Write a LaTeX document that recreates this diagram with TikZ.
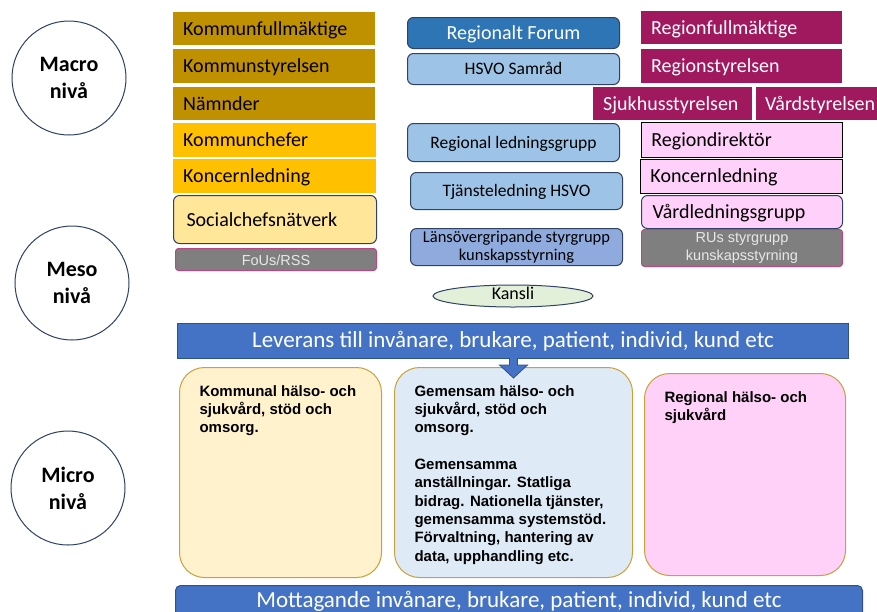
\documentclass[tikz,border=0pt]{standalone}
\usepackage{fontspec}
\setmainfont{Carlito}
\newfontfamily\arialfont{Liberation Sans}
\usetikzlibrary{shapes.geometric,calc}

\definecolor{goldDark}{HTML}{BF9000}
\definecolor{goldMid}{HTML}{FFC000}
\definecolor{goldLight}{HTML}{FFE699}
\definecolor{slateLine}{HTML}{2F4164}
\definecolor{greyFill}{HTML}{7F7F7F}
\definecolor{plumLine}{HTML}{B8487F}
\definecolor{forumBlue}{HTML}{2E75B6}
\definecolor{skyBlue}{HTML}{9DC3E6}
\definecolor{periBlue}{HTML}{8FAADC}
\definecolor{plum}{HTML}{A0185E}
\definecolor{pinkLight}{HTML}{FFD1FA}
\definecolor{mainBlue}{HTML}{4472C4}
\definecolor{mainBlueLine}{HTML}{2F528F}
\definecolor{kansliGreen}{HTML}{E2F0D9}
\definecolor{creamFill}{HTML}{FFF2CC}
\definecolor{paleBlue}{HTML}{DEEBF7}
\definecolor{microPink}{HTML}{FFD0F8}
\definecolor{ochreLine}{HTML}{C9A13B}
\definecolor{lightText}{HTML}{E8E8E8}

\begin{document}
\begin{tikzpicture}[x=1pt,y=-1pt,
  level/.style={circle, draw=slateLine, line width=1pt, fill=white,
    minimum size=114pt, inner sep=0pt, align=center,
    font=\fontsize{22}{27}\selectfont\bfseries},
  box/.style={anchor=north west, inner xsep=10pt, inner ysep=0pt,
    text height=13pt, text depth=0pt,
    align=left, font=\fontsize{20}{24}\selectfont},
  kdark/.style={box, fill=goldDark},
  kmid/.style={box, fill=goldMid},
  rplum/.style={box, fill=plum, text=white},
  rpink/.style={box, fill=pinkLight, draw=black, line width=0.9pt},
  netbox/.style={box, draw=slateLine, rounded corners=6pt, line width=1pt},
  greytag/.style={anchor=north west, fill=greyFill, draw=plumLine,
    rounded corners=3pt, text=lightText, align=center, inner sep=0pt,
    line width=1pt, font=\arialfont\fontsize{14.5}{18.5}\selectfont},
  midbox/.style={anchor=north west, rounded corners=6pt, draw=slateLine,
    line width=1pt, align=center, inner sep=0pt, fill=skyBlue,
    font=\fontsize{17.5}{18}\selectfont},
  oneline/.style={text height=11.5pt, text depth=0pt},
  microbox/.style={anchor=north west, rounded corners=25pt, draw=ochreLine,
    line width=1pt, inner xsep=20pt, inner ysep=18pt,
    font=\arialfont\bfseries\fontsize{15}{18.3}\selectfont},
  band/.style={anchor=north west, fill=mainBlue, draw=mainBlueLine,
    line width=1pt, text=white, inner sep=0pt,
    font=\fontsize{23}{26}\selectfont}]

\useasboundingbox (0,0) rectangle (877,611);
\fill[white] (0,0) rectangle (877,611);
\clip (0,0) rectangle (877,611);

% level circles
\node[level] (macro) at (69,78)  {Macro\\nivå};
\node[level] (meso)  at (72,283) {Meso\\nivå};
\node[level] (micro) at (68,488) {Micro\\nivå};

% municipal column
\node[kdark, minimum width=202, minimum height=33, text width=182] (kfm) at (173,12) {Kommunfullmäktige};
\node[kdark, minimum width=202, minimum height=34, text width=182] (kst) at (173,49) {Kommunstyrelsen};
\node[kdark, minimum width=202, minimum height=33, text width=182] (nmd) at (173,87) {Nämnder};
\node[kmid,  minimum width=203, minimum height=34, text width=183] (kch) at (173,123) {Kommunchefer};
\node[kmid,  minimum width=203, minimum height=34, text width=183] (kkl) at (173,159) {Koncernledning};
\node[netbox, fill=goldLight, inner xsep=13pt, minimum width=203, minimum height=48, text width=177] (scn) at (173,195) {Socialchefsnätverk};
\node[greytag, oneline, minimum width=201, minimum height=22] (fou) at (175,248) {FoUs/RSS};

% joint column
\node[midbox, oneline, fill=forumBlue, text=white, minimum width=212, minimum height=31,
  text height=13pt, font=\fontsize{20}{22}\selectfont] (forum) at (407,17) {Regionalt Forum};
\node[midbox, oneline, minimum width=212, minimum height=31] (samrad) at (407,53) {HSVO Samråd};
\node[midbox, oneline, minimum width=212, minimum height=38] (rlg) at (407,123) {Regional ledningsgrupp};
\node[midbox, oneline, minimum width=212, minimum height=37] (tjl) at (410,172) {Tjänsteledning HSVO};
\node[midbox, fill=periBlue, minimum width=212, minimum height=37,
  font=\fontsize{16.5}{18}\selectfont] (lsg) at (410,228) {Länsövergripande styrgrupp\\kunskapsstyrning};

% regional column
\node[rplum, minimum width=201, minimum height=33, text width=181] (rfm) at (641,11) {Regionfullmäktige};
\node[rplum, minimum width=201, minimum height=34, text width=181] (rst) at (641,49) {Regionstyrelsen};
\node[rplum, minimum width=159, minimum height=33, text width=139] (sjh) at (593,87) {Sjukhusstyrelsen};
\node[rplum, inner xsep=9pt, minimum width=130, minimum height=33, text width=112] (vst) at (756,87) {Vårdstyrelsen};
\node[rpink, minimum width=201, minimum height=35, text width=181] (rdir) at (641,122) {Regiondirektör};
\node[rpink, minimum width=202, minimum height=34, text width=182] (rkl) at (640,159) {Koncernledning};
\node[netbox, fill=pinkLight, inner xsep=11pt, minimum width=201, minimum height=33, text width=179] (vlg) at (641,195) {Vårdledningsgrupp};
\node[greytag, minimum width=201, minimum height=37] (rus) at (641,229) {RUs styrgrupp\\kunskapsstyrning};

% secretariat
\node[ellipse, draw=slateLine, fill=kansliGreen, line width=1pt,
  minimum width=160, minimum height=22, inner sep=0pt, text height=9pt, text depth=2pt,
  font=\fontsize{18}{20}\selectfont] (kansli) at (513,296) {Kansli};

% delivery band
\node[band, minimum width=671, minimum height=35] (lev) at (177,323)
  {Leverans till invånare, brukare, patient, individ, kund etc};

% micro level boxes
\node[microbox, fill=creamFill] (kom) at (179,367)
  {\parbox[c][174pt][t]{162pt}{\raggedright Kommunal hälso- och\\sjukvård, stöd och\\omsorg.}};
\node[microbox, fill=paleBlue] (gem) at (394,367)
  {\parbox[c][174pt][t]{198pt}{\raggedright Gemensam hälso- och\\sjukvård, stöd och\\omsorg.\\\mbox{}\\Gemensamma\\anställningar. Statliga\\bidrag. Nationella tjänster,\\gemensamma systemstöd.\\Förvaltning, hantering av\\data, upphandling etc.}};
\node[microbox, fill=microPink] (reg) at (644,373)
  {\parbox[c][166pt][t]{161pt}{\raggedright Regional hälso- och\\sjukvård}};

% block arrow from the delivery band down into the joint box
\coordinate (arrtop) at ($(lev.south)+(0.5,0)$);
\filldraw[fill=mainBlue, draw=mainBlueLine, line width=0.8pt]
  ($(arrtop)+(-4,0)$) -- ++(0,6) -- ++(-10,0) -- ($(arrtop)+(0,19)$)
  -- ($(arrtop)+(14,6)$) -- ++(-10,0) -- ++(0,-6);
\fill[mainBlue] ($(arrtop)+(-3.6,-0.6)$) rectangle ($(arrtop)+(3.6,1)$);

% receiving band
\node[band, rounded corners=5pt, minimum width=687, minimum height=32] (mot) at (175,585)
  {Mottagande invånare, brukare, patient, individ, kund etc};

\end{tikzpicture}
\end{document}
